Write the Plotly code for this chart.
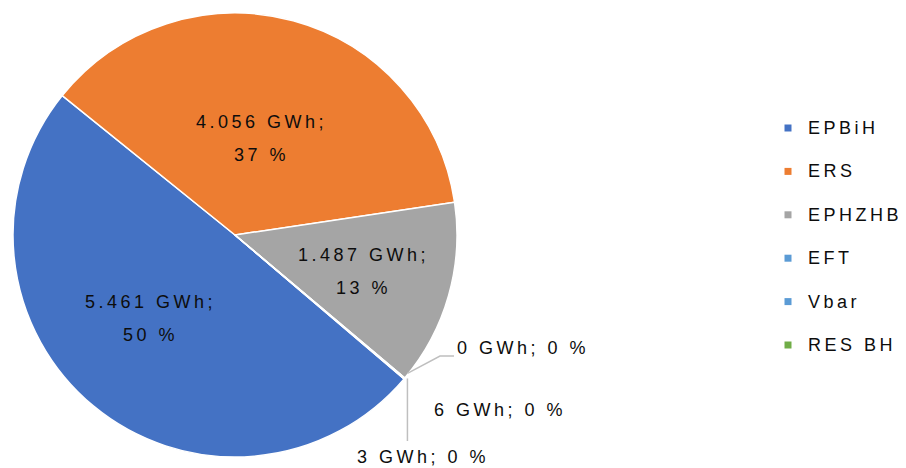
import math
import plotly.graph_objects as go

labels = ["EPBiH", "ERS", "EPHZHB", "EFT", "Vbar", "RES BH"]
values = [5461, 4056, 1487, 0, 6, 3]
percents = [50, 37, 13, 0, 0, 0]
colors = ["#4472C4", "#ED7D31", "#A5A5A5", "#5B9BD5", "#5B9BD5", "#70AD47"]

OFF = 8                      # default page body margin
PW, PH = 906, 468            # page size
W, H = PW - OFF, PH - OFF    # figure size
CX, CY, R = 235, 235, 222    # pie geometry in page pixels
ROT = 130.4
FONT = "Liberation Sans, Arial"
TXT = "#0d0d0d"
SPAN = '<span style="font-size:18px;letter-spacing:3.5px">{}</span>'
# placement of the inside labels (fraction of radius, angle shift), layout only
LABEL_RAD = [0.535, 0.45, 0.60]
LABEL_DANG = [6.0, 0.0, 0.0]


def px(x):
    return (x - OFF) / W


def py(y):
    return 1 - (y - OFF) / H


def fmt(v):
    return f"{v:,}".replace(",", ".")


total = sum(values)
texts = [SPAN.format(f"{fmt(v)} GWh;") + "<br>" + SPAN.format(f"{p} %")
         for v, p in zip(values, percents)]
small_texts = [SPAN.format(f"{fmt(v)} GWh; {p} %") for v, p in zip(values, percents)]

fig = go.Figure(go.Pie(
    labels=labels, values=values, sort=False, direction="clockwise", rotation=ROT,
    marker=dict(colors=colors, line=dict(color="white", width=1.5)),
    textinfo="none",
    domain=dict(x=[px(CX - R), px(CX + R)], y=[py(CY + R), py(CY - R)]),
    showlegend=False, hoverinfo="label+value+percent",
))

shapes = []
annotations = []

# inside labels at each slice's mid-angle (computed from the data)
cum = 0
mids = []
for v in values:
    mids.append(ROT + (cum + v / 2) / total * 360)
    cum += v
for i, (frac, dang) in enumerate(zip(LABEL_RAD, LABEL_DANG)):
    a = math.radians(mids[i] + dang)
    lx = CX + frac * R * math.sin(a)
    ly = CY - frac * R * math.cos(a)
    annotations.append(dict(x=px(lx), y=py(ly), xref="paper", yref="paper",
                            text=texts[i], showarrow=False, xanchor="center",
                            yanchor="middle", align="center",
                            font=dict(family=FONT, size=25, color=TXT)))

# anchor of the tiny slices on the pie edge (from the data)
mid = ROT + (sum(values[:3]) + sum(values[3:]) / 2) / total * 360
ax = CX + R * math.sin(math.radians(mid))
ay = CY - R * math.cos(math.radians(mid))

line_col = "#BFBFBF"
callouts = {
    3: dict(path=[(ax + 3, ay - 5), (440, 356), (454, 356)], tx=455, ty=348),
    4: dict(path=None, tx=432, ty=410),
    5: dict(path=[(ax + 3, ay), (ax + 3, 441)], tx=355, ty=457),
}
for i, o in callouts.items():
    if o["path"]:
        d = "M " + " L ".join(f"{px(x)},{py(y)}" for x, y in o["path"])
        shapes.append(dict(type="path", xref="paper", yref="paper", path=d,
                           line=dict(color=line_col, width=1.5)))
    annotations.append(dict(x=px(o["tx"]), y=py(o["ty"]), xref="paper", yref="paper",
                            text=small_texts[i], showarrow=False, xanchor="left",
                            yanchor="middle", font=dict(family=FONT, size=18, color=TXT)))

# legend built from labels / colors
LX, LY0, LDY = 788, 128, 43.4
for i, (lab, col) in enumerate(zip(labels, colors)):
    yy = LY0 + i * LDY
    shapes.append(dict(type="rect", xref="paper", yref="paper",
                       x0=px(LX - 3.5), x1=px(LX + 3.5), y0=py(yy + 3.5), y1=py(yy - 3.5),
                       fillcolor=col, line=dict(width=0)))
    annotations.append(dict(x=px(806), y=py(yy), xref="paper", yref="paper",
                            text=SPAN.format(lab), showarrow=False, xanchor="left",
                            yanchor="middle", font=dict(family=FONT, size=18, color=TXT)))

fig.update_layout(
    width=W, height=H, margin=dict(l=0, r=0, t=0, b=0),
    paper_bgcolor="white", plot_bgcolor="white",
    shapes=shapes, annotations=annotations,
)
fig.write_html("out.html")
